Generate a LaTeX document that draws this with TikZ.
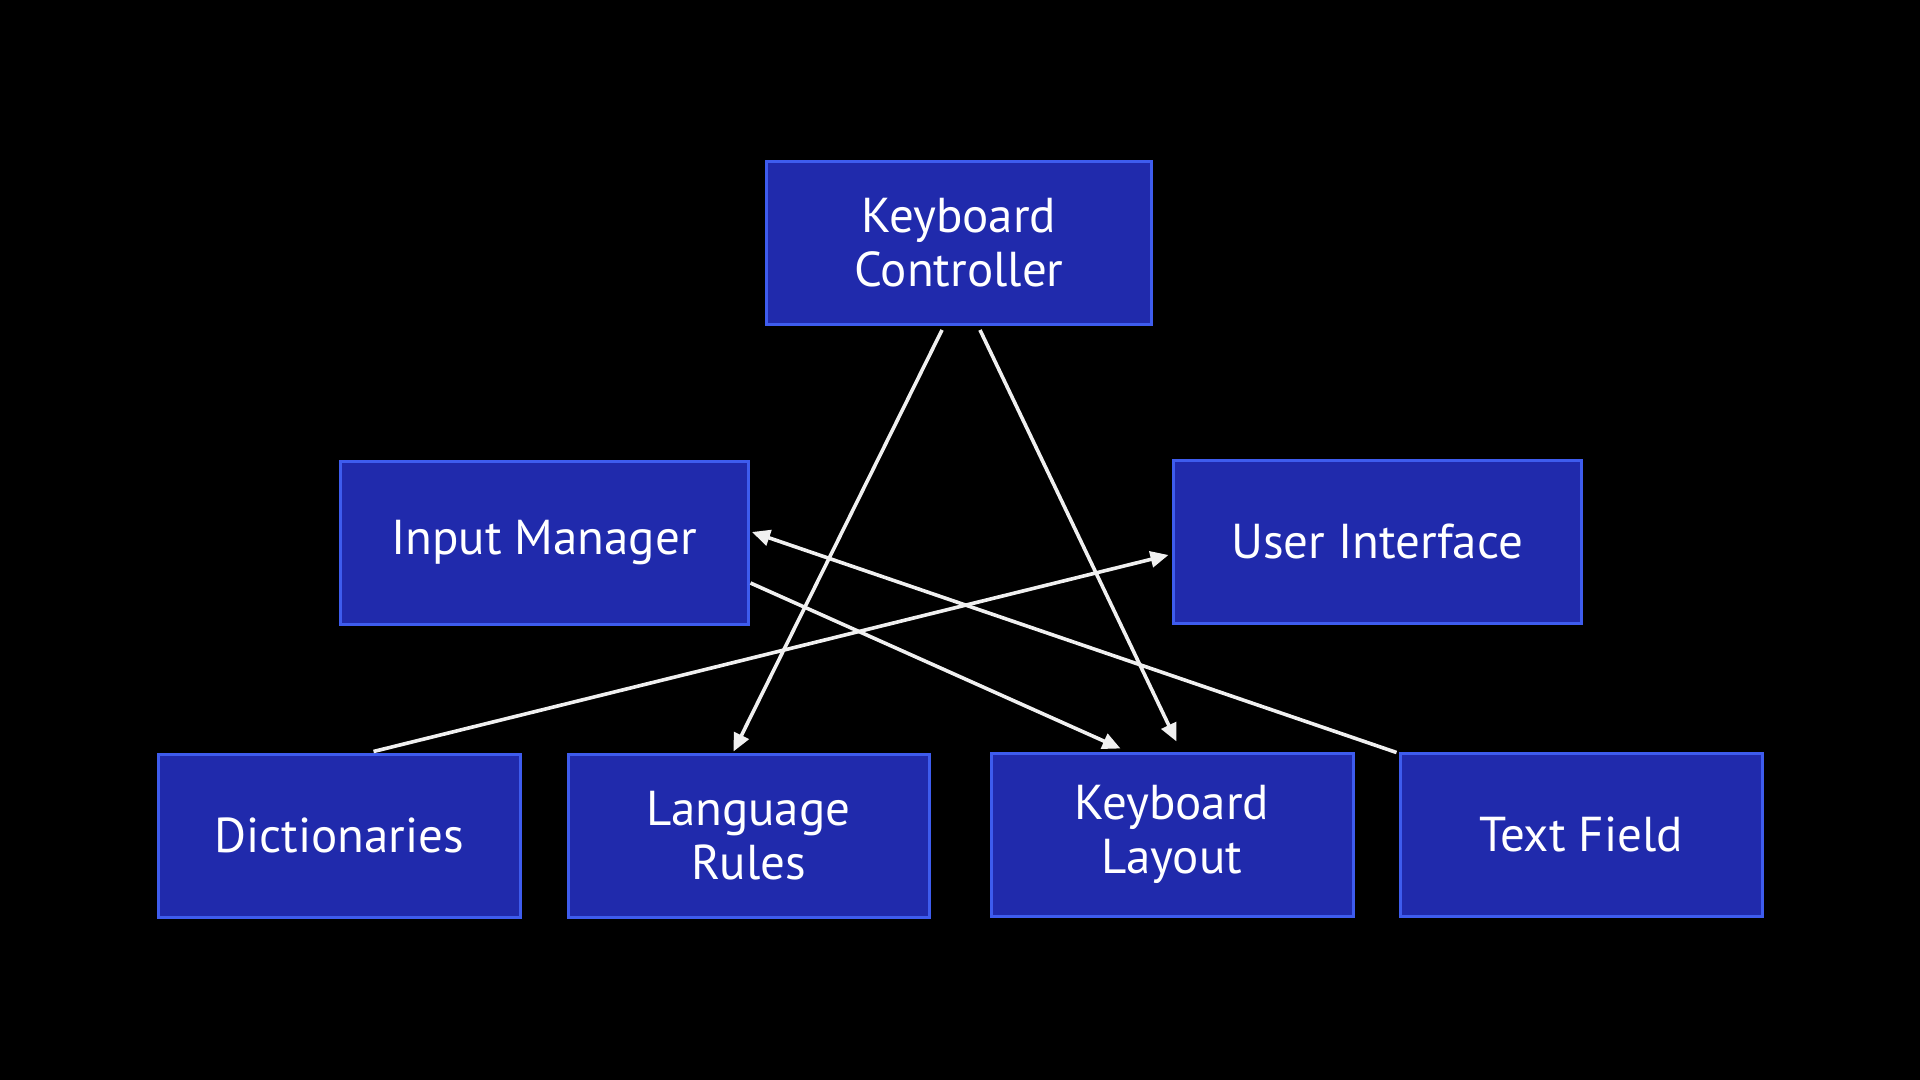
\documentclass[tikz,border=0pt]{standalone}
\usepackage{fontspec}
\setmainfont{PT Sans}
\usetikzlibrary{calc,arrows.meta}
\definecolor{boxfill}{RGB}{32,42,172}
\definecolor{boxline}{RGB}{62,92,238}
\definecolor{arrline}{RGB}{240,240,240}
\begin{document}
\begin{tikzpicture}[x=0.5pt,y=-0.5pt,
  box/.style={draw=boxline, fill=boxfill, line width=1.5pt, text=white,
    minimum height=81.5pt, align=center, inner sep=0pt,
    font=\fontsize{24.5}{27}\selectfont},
  arr/.style={draw=arrline, line width=1.8pt, -{Triangle[length=9pt,width=8pt]}}]
\fill[black] (0,0) rectangle (1920,1080);
\useasboundingbox (0,0) rectangle (1920,1080);
\node[box, minimum width=192.5pt] (KC) at (959,243) {Keyboard\\Controller};
\node[box, minimum width=204pt] (IM) at (544,543) {Input Manager};
\node[box, minimum width=204pt] (UI) at (1377,541.5) {User Interface};
\node[box, minimum width=181pt] (D) at (339,835.5) {Dictionaries};
\node[box, minimum width=180.5pt] (LR) at (748.5,835.5) {Language\\Rules};
\node[box, minimum width=181pt] (KL) at (1172,834.5) {Keyboard\\Layout};
\node[box, minimum width=181pt] (TF) at (1581,834.5) {Text Field};
\draw[arr] ($(KC.south)+(-17,4)$) -- ($(LR.north)+(-15,-1)$);
\draw[arr] ($(KC.south)+(21,4)$) -- ($(KL.north)+(4.5,-10)$);
\draw[arr] ($(IM.east)+(1,40)$) -- ($(KL.north)+(-51.5,-3)$);
\draw[arr] ($(TF.north west)+(-2,1)$) -- ($(IM.east)+(2.5,-11)$);
\draw[arr] ($(D.north)+(34.5,-1)$) -- ($(UI.west)+(-3,13.5)$);
\end{tikzpicture}
\end{document}
